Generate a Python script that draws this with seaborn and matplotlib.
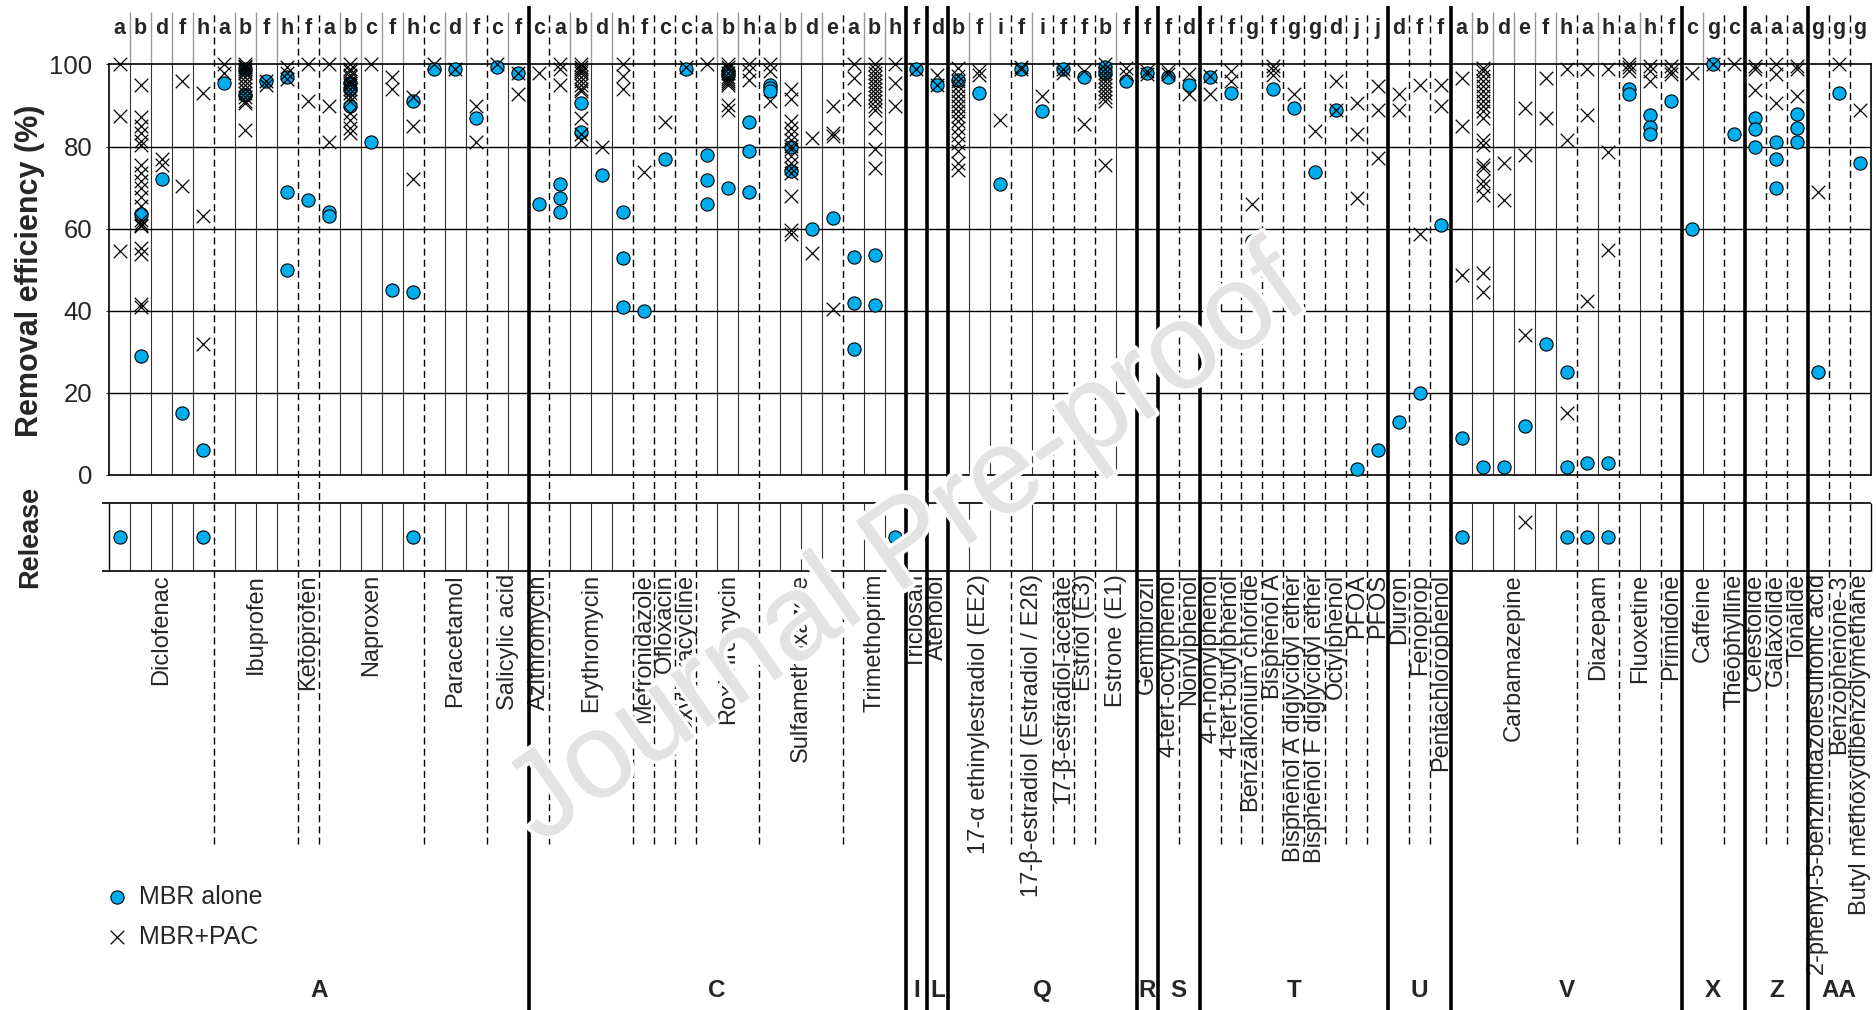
import matplotlib
matplotlib.use("Agg")
import matplotlib.pyplot as plt
import matplotlib.patheffects as pe
import seaborn as sns
import pandas as pd

# ---- data -----------------------------------------------------------
group_names = ["A", "C", "I", "L", "Q", "R", "S", "T", "U", "V", "X", "Z", "AA"]
group_sizes = [6, 8, 1, 1, 5, 1, 2, 9, 3, 4, 2, 3, 3]   # compounds per group

compound_names = [
    "Diclofenac", "Ibuprofen", "Ketoprofen", "Naproxen", "Paracetamol", "Salicylic acid",
    "Azithromycin", "Erythromycin", "Metronidazole", "Ofloxacin", "Oxytetracycline",
    "Roxithromycin", "Sulfamethoxazole", "Trimethoprim",
    "Triclosan", "Atenolol",
    "17-\u03b1 ethinylestradiol (EE2)", "17-\u03b2-estradiol (Estradiol / E2\u00df)",
    "17-\u03b2-estradiol-acetate", "Estriol (E3)", "Estrone (E1)",
    "Gemfibrozil", "4-tert-octylphenol", "Nonylphenol",
    "4-n-nonylphenol", "4-tert-butylphenol", "Benzalkonium chloride", "Bisphenol A",
    "Bisphenol A diglycidyl ether", "Bisphenol F diglycidyl ether", "Octylphenol", "PFOA", "PFOS",
    "Diuron", "Fenoprop", "Pentachlorophenol",
    "Carbamazepine", "Diazepam", "Fluoxetine", "Primidone",
    "Caffeine", "Theophylline",
    "Celestolide", "Galaxolide", "Tonalide",
    "2-phenyl-5-benzimidazolesulfonic acid", "Benzophenone-3", "Butyl methoxydibenzolymethane",
]
compound_letters = [
    "abdfh", "abfh", "f", "abcfh", "cdf", "cf",
    "c", "abdh", "f", "c", "c", "abh", "abde", "abh",
    "f", "d",
    "bfi", "fi", "f", "f", "bf",
    "f", "f", "d",
    "f", "f", "g", "f", "g", "g", "d", "j", "j",
    "d", "f", "f",
    "abdefh", "ah", "ah", "f",
    "cg", "c",
    "a", "a", "a",
    "g", "g", "g",
]

# removal efficiency (%) per study column, left to right
mbr_alone = [
    [], [63.5, 29], [72], [15], [6],
    [95.5], [99, 92.5], [96], [97, 69, 50],
    [67],
    [64, 63], [95.5, 94, 90], [81], [45], [91, 44.5],
    [99], [99], [87],
    [99.5], [98],
    [66],
    [71, 67.5, 64], [90.6, 83.5], [73], [64, 52.8, 41],
    [40], [77], [99],
    [78, 71.8, 66], [98.5, 97.5, 70], [86, 79, 69],
    [95, 94.3, 93.5], [80, 74], [60], [62.6],
    [53, 41.8, 30.8], [53.7, 41.4], [],
    [99],
    [95],
    [96.3], [93], [71], [99], [88.6], [99], [97], [99.5, 98], [96],
    [98],
    [97], [95],
    [97], [93], [57], [94], [89.4], [73.7], [89], [1.5], [6],
    [13], [20], [61],
    [9], [2], [2], [12], [32], [25, 2], [3], [3], [94, 92.8], [87.8, 84.7, 83.1], [91],
    [60], [100], [83],
    [87, 84.3, 80], [81, 77, 70], [88, 84.5, 81],
    [25], [93], [76],
]
mbr_pac = [
    [100, 87.4, 54.5],
    [95, 87.3, 85.1, 83.2, 81.3, 80.3, 75.5, 73.6, 71.6, 69.9, 67.7, 65.5, 62, 61.5,
     61, 60.7, 55.3, 53.8, 41.6, 40.9],
    [77, 75.5], [96, 70.3], [93, 63, 32],
    [100, 98],
    [100, 99.7, 99.3, 99, 98.5, 98, 97, 96, 95, 94, 93, 92, 91, 90.5, 84],
    [96, 95], [99.5, 98, 96.5],
    [100, 91],
    [100, 90, 81],
    [100, 99, 98.5, 97.5, 97, 96, 95.5, 95, 94, 93, 92, 91, 88.2, 86.6, 84.6, 83.3],
    [100], [97, 94], [92, 85, 72],
    [100], [99], [90, 81],
    [100], [98, 92.7],
    [98],
    [100, 98.8, 95],
    [100, 99.5, 99, 98.5, 98, 97, 96, 95, 94, 93.5, 87, 83, 81.7],
    [80], [100, 97.2, 94],
    [73.7], [86], [99.5],
    [100],
    [100, 99.5, 99, 98, 97, 96.5, 96, 95.5, 95, 90.2, 89],
    [100, 98.4, 96.3],
    [100, 98.4, 91],
    [94, 91.5, 86.2, 84.6, 83, 81.7, 80.2, 79.5, 77.6, 76, 74.8, 73.6, 68, 59.8, 58.8],
    [82, 54], [90, 83.3, 82.5, 40.4],
    [100, 96.7, 91.5],
    [100, 99, 98, 97, 96, 95, 94, 93, 92, 91, 90, 89, 84.6, 79.3, 74.8],
    [100, 95.5, 90],
    [98.8],
    [97.5, 95],
    [99.2, 97.2, 96, 94.7, 93.5, 92.3, 91, 89.8, 88.6, 87.4, 86.2, 84.6, 82.9, 80.9,
     78.9, 76, 74.4],
    [98.4, 97.5], [86.6], [99.5, 98.8], [92.3], [99, 98], [98.4, 85.4],
    [100, 99, 98, 97, 96, 95, 94, 93, 92, 91, 75.6], [99.2, 97.6],
    [98.5, 97.8],
    [98.4, 97.6], [97.6, 92.7],
    [97.2, 92.9], [98.4, 95.9], [66], [99.6, 98.6, 97.5], [92.7], [83.7], [95.9, 89],
    [90.5, 83, 67.5], [94.7, 89, 77.2],
    [92.7, 89], [95, 58.7], [95, 90],
    [96.7, 85, 48.7],
    [99.2, 98.4, 97.2, 95.9, 94.7, 93.5, 92.3, 91, 89.8, 88.6, 87, 81.5, 80.5, 75.6,
     74.8, 71.5, 70.3, 68.3, 49.3, 44.6],
    [76, 67], [89.4, 78, 34], [96.7, 87], [98.8, 81.7, 15],
    [98.8, 87.6, 42.3], [98.8, 78.6, 54.9],
    [100, 99.5, 98.5], [99.6, 98.4, 95.9],
    [99.6, 98.4, 97.6],
    [98], [100], [100],
    [99.6, 98.8, 93.9], [100, 97.6, 90.5], [99.6, 98.8, 92.4],
    [69], [100], [89],
]
# columns where a release was reported
release_mbr_alone = [0, 4, 14, 37, 64, 69, 70, 71]
release_mbr_pac = [67]

# ---- layout (data units: columns on x, % on y) ----------------------
W, H = 1876, 1010
X0, CW = 109.1, 20.97          # left edge px, column width px
Y0, YS = 475.0, 4.105          # px of 0 %, px per %


def v(py):
    return (Y0 - py) / YS


n_cols = len(mbr_alone)
BLUE = "#00aeef"

rows = []
for i in range(n_cols):
    rows += [(i, val, "MBR alone") for val in mbr_alone[i]]
    rows += [(i, val, "MBR+PAC") for val in mbr_pac[i]]
df = pd.DataFrame(rows, columns=["col", "removal", "series"])
rel = pd.DataFrame(
    [(c, v(537), "MBR alone") for c in release_mbr_alone]
    + [(c, v(522), "MBR+PAC") for c in release_mbr_pac],
    columns=["col", "removal", "series"])

sns.set_style("white")
plt.rcParams["font.family"] = ["Liberation Sans", "DejaVu Sans"]

fig = plt.figure(figsize=(W / 100, H / 100), dpi=100)
ax = fig.add_axes([X0 / W, (H - Y0) / H, n_cols * CW / W, 100 * YS / H])

# column boundaries
comp_start = [0]
for s in compound_letters:
    comp_start.append(comp_start[-1] + len(s))
grp_edges, k = set(), 0
for g in group_sizes:
    k += g
    grp_edges.add(comp_start[k])
comp_edges = set(comp_start)

thin_x, dash_x, thick_x = [], [], []
for e in range(1, n_cols):
    xe = e - 0.5
    if e in grp_edges:
        thick_x.append(xe)
    elif e in comp_edges:
        dash_x.append(xe)
    else:
        thin_x.append(xe)

kw = dict(clip_on=False)
ax.vlines(thin_x, 100, v(12), colors="#9a9a9a", linewidth=1.0, **kw)
ax.vlines(thin_x, 0, 100, colors="#333333", linewidth=0.8, **kw)
ax.vlines(thin_x, v(570.5), v(503), colors="#333333", linewidth=0.8, **kw)
ax.vlines(dash_x, v(843.6), v(12), colors="black", linewidth=1.0,
          linestyles=(0, (5, 3)), **kw)
ax.vlines(thick_x, v(H), v(6), colors="black", linewidth=2.6, zorder=4, **kw)

for yy in (20, 40, 60, 80):
    ax.axhline(yy, color="black", linewidth=1.0)
# release panel box
ax.hlines([v(503), v(570.5)], -0.85, n_cols - 0.5, colors="black", linewidth=1.2, **kw)
ax.vlines([-0.5, n_cols - 0.5], v(570.5), v(503), colors="black", linewidth=1.0, **kw)

# markers
sns.scatterplot(data=df[df.series == "MBR alone"], x="col", y="removal", ax=ax,
                marker="o", color=BLUE, edgecolor="black", linewidth=0.8, s=90,
                zorder=5, clip_on=False, label="MBR alone")
sns.scatterplot(data=df[df.series == "MBR+PAC"], x="col", y="removal", ax=ax,
                marker="x", color="black", linewidth=0.9, s=95,
                zorder=6, clip_on=False, label="MBR+PAC")
sns.scatterplot(data=rel[rel.series == "MBR alone"], x="col", y="removal", ax=ax,
                marker="o", color=BLUE, edgecolor="black", linewidth=0.8, s=90,
                zorder=5, clip_on=False, legend=False)
sns.scatterplot(data=rel[rel.series == "MBR+PAC"], x="col", y="removal", ax=ax,
                marker="x", color="black", linewidth=0.9, s=95,
                zorder=6, clip_on=False, legend=False)

# study letters over every column
col = 0
for letters in compound_letters:
    for ch in letters:
        ax.text(col, v(29), ch, ha="center", va="center", fontsize=15.5,
                fontweight="bold", clip_on=False)
        col += 1

# compound names
for name, a, b in zip(compound_names, comp_start[:-1], comp_start[1:]):
    ax.text((a + b - 1) / 2, v(574), name, rotation=90, ha="center", va="top",
            fontsize=17, clip_on=False)

# group names
k = 0
for gname, g in zip(group_names, group_sizes):
    a, b = comp_start[k], comp_start[k + g]
    ax.text((a + b - 1) / 2, v(990), gname, ha="center", va="center", fontsize=17.5,
            fontweight="bold", clip_on=False)
    k += g

ax.set_xlim(-0.5, n_cols - 0.5)
ax.set_ylim(0, 100)
ax.set_xticks([])
ax.set_yticks(range(0, 101, 20))
ax.tick_params(axis="y", labelsize=18.5, length=2, pad=10, direction="out", left=True)
ax.set_xlabel("")
ax.set_ylabel("")
for sp in ax.spines.values():
    sp.set_color("black")
    sp.set_linewidth(1.2)

fig.text(30 / W, 1 - 271 / H, "Removal efficiency (%)", rotation=90, ha="center",
         va="center", fontsize=22, fontweight="bold")
fig.text(30 / W, 1 - 537 / H, "Release", rotation=90, ha="center", va="center",
         fontsize=19.5, fontweight="bold")

ax.legend(loc="upper left", bbox_to_anchor=(104 / W, 1 - 885 / H),
          bbox_transform=fig.transFigure, frameon=False, fontsize=18,
          borderpad=0, borderaxespad=0, handlelength=1.0, handletextpad=0.4,
          labelspacing=0.62)

fig.text(908 / W, 1 - 548 / H, "Journal Pre-proof", rotation=35, ha="center",
         va="center", fontsize=88, color="#e3e3e3", zorder=20,
         path_effects=[pe.withStroke(linewidth=5, foreground="white")])

fig.savefig("out.png", dpi=100, facecolor="white")
